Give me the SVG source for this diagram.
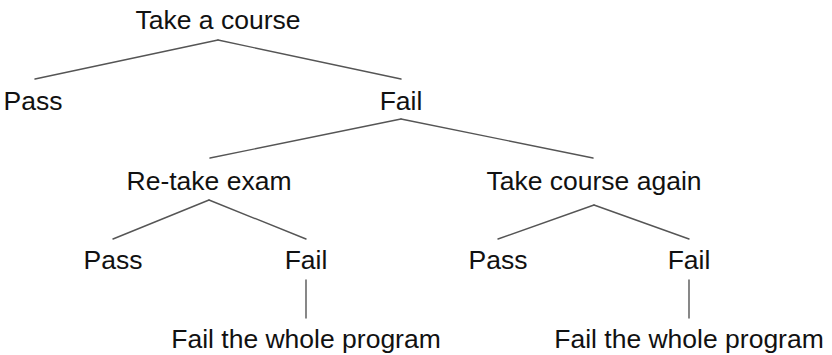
<svg xmlns="http://www.w3.org/2000/svg" width="832" height="355" viewBox="0 0 832 355">
<style>
.lbl{font-family:"Liberation Sans",Arial,sans-serif;font-size:26.5px;fill:#111;text-anchor:middle}
.edge{stroke:#555;stroke-width:1.4;fill:none;stroke-linecap:round}
</style>
<rect width="832" height="355" fill="#fff"/>
<g id="connectors">
<line class="edge" x1="218" y1="40" x2="35" y2="79"/>
<line class="edge" x1="218" y1="40" x2="401" y2="79"/>
<line class="edge" x1="401" y1="119" x2="210" y2="158"/>
<line class="edge" x1="401" y1="119" x2="593" y2="158"/>
<line class="edge" x1="209" y1="200" x2="113" y2="239"/>
<line class="edge" x1="209" y1="200" x2="306" y2="239"/>
<line class="edge" x1="594" y1="205" x2="498" y2="239"/>
<line class="edge" x1="594" y1="205" x2="689" y2="239"/>
<line class="edge" x1="306" y1="280" x2="306" y2="318"/>
<line class="edge" x1="689" y1="280" x2="689" y2="318"/>
</g>
<g id="root"><text class="lbl" x="218" y="29">Take a course</text></g>
<g id="pass1"><text class="lbl" x="33" y="110">Pass</text></g>
<g id="fail1"><text class="lbl" x="401" y="110">Fail</text></g>
<g id="retake"><text class="lbl" x="209" y="190">Re-take exam</text></g>
<g id="again"><text class="lbl" x="594" y="190">Take course again</text></g>
<g id="pass2"><text class="lbl" x="113" y="269">Pass</text></g>
<g id="fail2"><text class="lbl" x="306" y="269">Fail</text></g>
<g id="pass3"><text class="lbl" x="498" y="269">Pass</text></g>
<g id="fail3"><text class="lbl" x="689" y="269">Fail</text></g>
<g id="failall1"><text class="lbl" x="306" y="348">Fail the whole program</text></g>
<g id="failall2"><text class="lbl" x="689" y="348">Fail the whole program</text></g>
</svg>
